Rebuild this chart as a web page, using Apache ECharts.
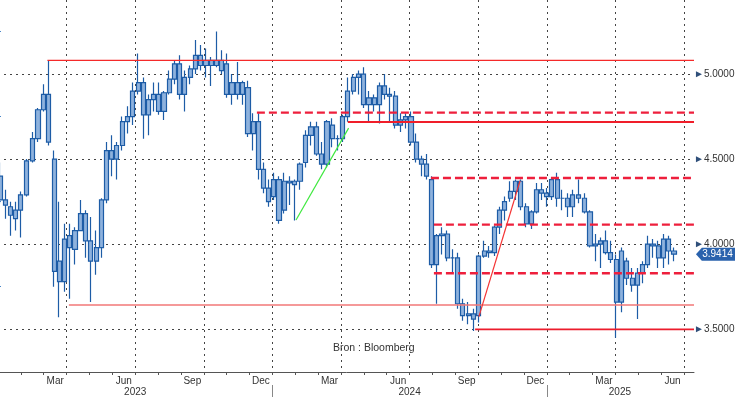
<!DOCTYPE html>
<html>
<head>
<meta charset="utf-8">
<script src="https://cdn.jsdelivr.net/npm/echarts@6/dist/echarts.min.js"></script>
<style>
  html, body { margin: 0; padding: 0; background: #fff; }
  #chart { width: 735px; height: 397px; }
</style>
</head>
<body>
<div id="chart"></div>
<script>
// weekly bars, first one is the week of 4 Jan 2023
var firstWeek = "2023-01-04";

var openValues = [
  4.40, 4.26, 4.22, 4.15, 4.20, 4.29, 4.49, 4.62, 4.79, 4.88,
  4.50, 3.90, 3.78, 4.05, 3.97, 4.08, 4.18, 4.02, 3.90, 3.98,
  4.26, 4.55, 4.50, 4.58, 4.72, 4.75, 4.90, 4.95, 4.76, 4.85,
  4.88, 4.78, 4.89, 4.97, 5.06, 4.88, 4.98, 5.03, 5.11, 5.05,
  5.08, 5.05, 5.08, 5.06, 4.88, 4.95, 4.88, 4.92, 4.65, 4.72,
  4.44, 4.33, 4.28, 4.38, 4.20, 4.37, 4.35, 4.37, 4.48, 4.64,
  4.69, 4.53, 4.47, 4.70, 4.62, 4.62, 4.75, 4.90, 4.98, 5.00,
  4.82, 4.86, 4.82, 4.93, 4.88, 4.87, 4.70, 4.73, 4.75, 4.60,
  4.50, 4.47, 4.38, 3.88, 4.05, 4.06, 3.92, 3.92, 3.65, 3.58,
  3.59, 3.58, 3.93, 3.96, 3.95, 4.10, 4.20, 4.27, 4.31, 4.37,
  4.22, 4.12, 4.19, 4.32, 4.30, 4.28, 4.38, 4.27, 4.27, 4.22,
  4.29, 4.27, 4.19, 3.99, 4.00, 4.02, 3.95, 3.91, 3.66, 3.90,
  3.80, 3.76, 3.83, 3.88, 4.00, 3.99, 3.92, 4.03, 3.96
];
var highValues = [
  4.48, 4.32, 4.25, 4.25, 4.31, 4.50, 4.66, 4.80, 4.94, 5.08,
  4.55, 4.25, 4.12, 4.12, 4.10, 4.26, 4.20, 4.16, 4.08, 4.27,
  4.60, 4.64, 4.60, 4.75, 4.81, 4.95, 5.12, 4.98, 4.88, 4.95,
  4.95, 4.90, 5.02, 5.08, 5.11, 5.02, 5.05, 5.20, 5.17, 5.15,
  5.10, 5.25, 5.14, 5.12, 5.00, 5.07, 4.96, 4.96, 4.77, 4.77,
  4.48, 4.38, 4.42, 4.40, 4.42, 4.40, 4.38, 4.48, 4.67, 4.72,
  4.72, 4.60, 4.73, 4.74, 4.64, 4.76, 4.98, 5.00, 5.02, 5.04,
  4.90, 4.88, 4.95, 5.00, 4.92, 4.90, 4.77, 4.77, 4.78, 4.65,
  4.52, 4.53, 4.40, 4.06, 4.10, 4.08, 3.97, 3.95, 3.68, 3.66,
  3.62, 3.94, 4.02, 3.99, 4.11, 4.22, 4.28, 4.37, 4.38, 4.38,
  4.24, 4.20, 4.36, 4.36, 4.33, 4.39, 4.42, 4.32, 4.30, 4.32,
  4.38, 4.30, 4.20, 4.06, 4.04, 4.08, 4.02, 3.94, 3.98, 3.92,
  3.86, 3.86, 3.90, 4.05, 4.03, 4.02, 4.06, 4.05, 3.98
];
var lowValues = [
  4.24, 4.15, 4.05, 4.08, 4.04, 4.28, 4.48, 4.60, 4.78, 4.58,
  3.75, 3.57, 3.72, 3.68, 3.88, 4.08, 3.92, 3.66, 3.82, 3.92,
  4.24, 4.40, 4.38, 4.55, 4.65, 4.70, 4.88, 4.62, 4.64, 4.78,
  4.76, 4.73, 4.88, 4.94, 4.85, 4.78, 4.94, 5.00, 5.02, 4.98,
  4.93, 5.04, 5.00, 4.86, 4.82, 4.85, 4.82, 4.63, 4.55, 4.38,
  4.30, 4.22, 4.26, 4.12, 4.18, 4.23, 4.14, 4.32, 4.45, 4.58,
  4.52, 4.44, 4.45, 4.57, 4.55, 4.60, 4.72, 4.88, 4.88, 4.80,
  4.72, 4.78, 4.71, 4.85, 4.72, 4.68, 4.66, 4.68, 4.58, 4.48,
  4.40, 4.38, 3.86, 3.65, 3.94, 3.90, 3.83, 3.62, 3.55, 3.53,
  3.49, 3.54, 3.92, 3.92, 3.93, 4.06, 4.14, 4.25, 4.26, 4.20,
  4.10, 4.09, 4.18, 4.26, 4.22, 4.26, 4.22, 4.20, 4.16, 4.16,
  4.24, 4.18, 3.98, 3.90, 3.86, 3.94, 3.89, 3.45, 3.60, 3.76,
  3.72, 3.56, 3.77, 3.86, 3.92, 3.86, 3.86, 3.88, 3.90
];
var closeValues = [
  4.26, 4.23, 4.17, 4.20, 4.29, 4.49, 4.62, 4.79, 4.88, 4.60,
  3.84, 3.78, 4.03, 3.98, 4.08, 4.18, 4.02, 3.90, 3.98, 4.26,
  4.55, 4.50, 4.58, 4.72, 4.75, 4.90, 4.95, 4.76, 4.85, 4.88,
  4.78, 4.89, 4.97, 5.06, 4.88, 4.98, 5.03, 5.11, 5.05, 5.08,
  5.05, 5.08, 5.02, 4.88, 4.95, 4.88, 4.95, 4.65, 4.72, 4.44,
  4.33, 4.25, 4.38, 4.14, 4.37, 4.36, 4.37, 4.47, 4.64, 4.69,
  4.53, 4.47, 4.72, 4.62, 4.62, 4.75, 4.90, 4.98, 5.00, 4.82,
  4.86, 4.82, 4.93, 4.88, 4.87, 4.70, 4.73, 4.75, 4.60, 4.50,
  4.47, 4.40, 3.88, 4.05, 4.06, 3.92, 3.92, 3.65, 3.58, 3.59,
  3.56, 3.93, 3.96, 3.95, 4.10, 4.20, 4.25, 4.31, 4.37, 4.22,
  4.12, 4.19, 4.32, 4.30, 4.28, 4.38, 4.27, 4.27, 4.22, 4.29,
  4.27, 4.19, 3.99, 4.00, 4.02, 3.95, 3.91, 3.66, 3.96, 3.80,
  3.76, 3.83, 3.88, 4.00, 3.99, 3.92, 4.03, 3.96, 3.9414
];
var lastValue = 3.9414;

var monthNames = ["Jan", "Feb", "Mar", "Apr", "May", "Jun", "Jul", "Aug", "Sep", "Oct", "Nov", "Dec"];
var monthLabelAt = [2.5, 5.5, 8.5, 11.5, 14.5, 17.5, 20.5, 23.5, 26.5, 29.5];
var yearNames = ["2023", "2024", "2025"];
var yearLabelAt = [6, 18, 27.2];
var yearBreaks = [12, 24];
var priceLabels = [3.5, 4.0, 4.5, 5.0];
var priceMinorTicks = [3.75, 4.25, 4.75, 5.25];

// drawn support / resistance levels
var solidStart = ["2023-03-06", "2023-04-04", "2024-04-10", "2024-09-27"];
var solidValue = [5.08, 3.643, 4.718, 3.50];
var dashedStart = ["2023-12-11", "2024-07-30", "2024-08-03", "2024-08-03"];
var dashedValue = [4.773, 4.389, 4.115, 3.829];
var greenTrend = [["2024-02-02", 4.142], ["2024-04-11", 4.682]];
var redTrend = [["2024-10-02", 3.574], ["2024-11-26", 4.373]];

var xMax = 30.44;
var yMin = 3.249;
var yMax = 5.435;

function monthPos(s) {
  var p = s.split("-");
  var y = +p[0], m = +p[1], d = +p[2];
  var dim = new Date(Date.UTC(y, m, 0)).getUTCDate();
  return (y - 2023) * 12 + (m - 1) + (d - 1) / dim;
}

function weekDate(i) {
  var t = Date.parse(firstWeek + "T00:00:00Z") + i * 7 * 86400000;
  return new Date(t).toISOString().slice(0, 10);
}

var candles = [];
for (var i = 0; i < closeValues.length; i++) {
  candles.push([monthPos(weekDate(i)), openValues[i], closeValues[i], lowValues[i], highValues[i]]);
}

var font = "Liberation Sans";
var series = [];

series.push({
  type: "candlestick",
  data: candles,
  encode: { x: 0, y: [1, 2, 3, 4] },
  barWidth: 4.6,
  z: 2,
  itemStyle: {
    color: "#8eb2dd",
    color0: "#8eb2dd",
    borderColor: "#1d5ca6",
    borderColor0: "#1d5ca6",
    borderWidth: 1.2
  },
  markPoint: {
    symbol: "path://M0,6.5 L6,0 L40,0 L40,13 L6,13 Z",
    symbolSize: [39, 13],
    symbolOffset: [21.5, 0],
    silent: true,
    data: [{ coord: [xMax - 0.001, lastValue] }],
    itemStyle: { color: "#2a62ad" },
    label: {
      show: true,
      position: "inside",
      offset: [2, 0],
      formatter: lastValue.toFixed(4),
      color: "#fff",
      fontSize: 10,
      fontFamily: font
    }
  }
});

var solidStyles = [
  { color: "#f52a2a", width: 1.3 },
  { color: "#f27777", width: 1.6 },
  { color: "#f01e2a", width: 2.2 },
  { color: "#ec1c2c", width: 1.8 }
];

for (var s = 0; s < solidStart.length; s++) {
  series.push({
    type: "line",
    data: [[monthPos(solidStart[s]), solidValue[s]], [xMax, solidValue[s]]],
    symbol: "none",
    silent: true,
    z: 4,
    lineStyle: { color: solidStyles[s].color, width: solidStyles[s].width, type: "solid" }
  });
}

for (var d = 0; d < dashedStart.length; d++) {
  series.push({
    type: "line",
    data: [[monthPos(dashedStart[d]), dashedValue[d]], [xMax, dashedValue[d]]],
    symbol: "none",
    silent: true,
    z: 4,
    lineStyle: { color: "#ee1f3c", width: 2.4, type: [8, 4] }
  });
}

series.push({
  type: "line",
  data: greenTrend.map(function (p) { return [monthPos(p[0]), p[1]]; }),
  symbol: "none",
  silent: true,
  z: 4,
  lineStyle: { color: "#3fe83f", width: 1.2 }
});

series.push({
  type: "line",
  data: redTrend.map(function (p) { return [monthPos(p[0]), p[1]]; }),
  symbol: "none",
  silent: true,
  z: 4,
  lineStyle: { color: "#f43535", width: 1.2 }
});

var dotted = { color: "#444", width: 1, type: [2, 4] };

var option = {
  animation: false,
  backgroundColor: "#fff",
  title: {
    text: "Bron : Bloomberg",
    left: 333,
    top: 343,
    padding: 0,
    textStyle: { fontSize: 10.5, fontWeight: "normal", color: "#333", fontFamily: font }
  },
  grid: { left: -2, right: 41, top: 0, bottom: 25, outerBoundsMode: "none" },
  xAxis: [
    {
      type: "value",
      min: 0,
      max: xMax,
      interval: 3,
      axisLine: { show: true, lineStyle: { color: "#555", width: 1 } },
      axisTick: { show: false },
      axisLabel: { show: false },
      splitLine: { show: true, showMinLine: false, showMaxLine: false, lineStyle: dotted }
    },
    {
      type: "value",
      min: 0,
      max: xMax,
      position: "bottom",
      axisLine: { show: false },
      splitLine: { show: false },
      axisTick: {
        show: true,
        customValues: [1, 2, 3, 4, 5, 6, 7, 8, 9, 10, 11, 12, 13, 14, 15, 16, 17, 18, 19, 20, 21, 22, 23, 24, 25, 26, 27, 28, 29, 30],
        length: 3,
        lineStyle: { color: "#555" }
      },
      axisLabel: {
        show: true,
        customValues: monthLabelAt,
        formatter: function (v) { return monthNames[Math.floor(v) % 12]; },
        color: "#333",
        fontSize: 10,
        fontFamily: font,
        margin: 4
      }
    },
    {
      type: "value",
      min: 0,
      max: xMax,
      position: "bottom",
      offset: 13,
      axisLine: { show: false },
      splitLine: { show: false },
      axisTick: {
        show: true,
        customValues: yearBreaks,
        length: 12,
        lineStyle: { color: "#888" }
      },
      axisLabel: {
        show: true,
        customValues: yearLabelAt,
        formatter: function (v) { return yearNames[Math.floor(v / 12)]; },
        color: "#333",
        fontSize: 10,
        fontFamily: font,
        margin: 2
      }
    }
  ],
  yAxis: [
    {
      type: "value",
      position: "right",
      min: yMin,
      max: yMax,
      splitNumber: 4,
      axisLine: { show: true, lineStyle: { color: "#4a86c8", width: 1 } },
      axisTick: { show: false },
      axisLabel: { show: false },
      splitLine: { show: true, showMinLine: false, showMaxLine: false, lineStyle: dotted }
    },
    {
      type: "value",
      position: "right",
      min: yMin,
      max: yMax,
      axisLine: { show: false },
      splitLine: { show: false },
      axisTick: {
        show: true,
        customValues: priceMinorTicks,
        length: 3,
        lineStyle: { color: "#4a86c8" }
      },
      axisLabel: {
        show: true,
        customValues: priceLabels,
        formatter: function (v) { return "{t|►}" + v.toFixed(4); },
        color: "#333",
        fontSize: 10,
        fontFamily: font,
        margin: 0,
        rich: {
          t: { fontSize: 10, color: "#2f4f7a", fontFamily: font, padding: [0, 0, 0, 0] }
        }
      }
    }
  ],
  series: series
};

var chart = echarts.init(document.getElementById("chart"));
chart.setOption(option);
</script>
</body>
</html>
